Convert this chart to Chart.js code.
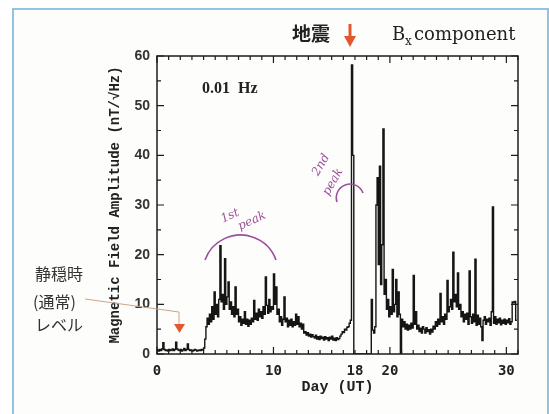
<!DOCTYPE html>
<html>
<head>
<meta charset="utf-8">
<script src="https://cdn.jsdelivr.net/npm/chart.js@4.4.0/dist/chart.umd.min.js"></script>
<style>
  html, body { margin: 0; padding: 0; background: #fff; }
  #wrap { width: 549px; height: 414px; position: relative; }
</style>
</head>
<body>
<div id="wrap"><canvas id="chart" width="549" height="414"></canvas></div>
<script>
// --- Datos (amplitud 0.01 Hz, componente Bx), paso de 0.1 día ---
const DAY_STEP = 0.1;

// días 0.0 - 4.0 (nivel de calma)
const quietDays = [
  0.5, 0.8, 0.6, 0.9, 0.7, 1.0, 2.3, 0.9, 0.7, 0.8,
  0.6, 0.9, 0.7, 0.8, 1.0, 0.7, 0.9, 2.4, 1.0, 0.8,
  0.7, 0.9, 0.6, 0.8, 1.1, 0.7, 0.9, 2.0, 0.9, 0.7,
  0.8, 0.6, 0.7, 0.9, 0.8, 0.6, 0.7, 0.8, 0.7, 0.9,
  0.8
];

// días 4.1 - 12.6 (1st peak)
const firstPeakDays = [
  1.2, 3.0, 5.5, 7.2, 6.0, 8.0, 6.5, 9.5, 7.0,
  12.5, 8.0, 10.0, 7.5, 11.0, 21.8, 10.5, 12.0, 9.0, 19.2,
  10.0, 11.5, 14.5, 9.0, 10.5, 8.0, 9.5, 7.5, 13.5, 8.0,
  9.0, 6.5, 7.5, 5.8, 7.0, 6.2, 8.5, 6.0, 7.0, 5.6,
  6.8, 6.0, 7.2, 6.5, 10.8, 7.0, 8.2, 6.8, 9.0, 7.5,
  8.5, 7.2, 9.5, 8.0, 15.5, 9.8, 8.2, 11.0, 8.5, 9.5,
  9.0, 16.1, 10.0, 13.5, 8.0, 9.0, 6.5, 7.5, 5.8, 7.0,
  11.5, 6.5, 7.2, 5.5, 6.8, 5.8, 7.0, 5.5, 6.5, 5.8,
  8.0, 6.0, 7.5, 5.5, 6.2, 5.0, 6.0
];

// días 12.7 - 16.7 (antes del sismo)
const preQuakeDays = [
  4.2, 4.5, 3.8, 4.3, 3.6, 4.0, 3.4, 3.9, 3.5, 3.2,
  3.8, 3.0, 3.5, 2.9, 3.6, 3.1, 3.4, 2.8, 3.5, 3.0,
  3.3, 2.7, 3.4, 3.0, 3.6, 2.8, 3.2, 2.7, 3.3, 2.9,
  3.1, 3.6, 4.0, 4.5, 4.3, 5.0, 4.8, 5.4, 5.5, 6.2,
  6.8
];

// días 16.8 - 16.9 (sismo)
const quakeDays = [58.2, 40.0];

// días 17.0 - 18.4 (sin datos)
const gapDays = [0, 0, 0, 0, 0, 0, 0, 0, 0, 0, 0, 0, 0, 0, 0];

// días 18.5 - 30.9 (después del sismo)
const postQuakeDays = [
  11.0, 4.8, 4.2, 5.5, 30.0,
  35.5, 18.0, 37.8, 14.0, 22.0, 45.3, 12.0, 15.0, 9.0, 11.0,
  7.5, 9.5, 8.0, 17.0, 8.5, 10.0, 15.0, 7.5, 12.5, 8.0,
  0, 7.0, 5.5, 6.5, 5.0, 6.0, 4.8, 5.8, 5.0, 6.2,
  5.2, 15.8, 6.0, 8.5, 5.0, 5.8, 4.5, 5.2, 4.2, 5.5,
  5.0, 4.2, 5.3, 4.5, 4.9, 4.0, 5.0, 4.4, 5.6, 5.0,
  6.5, 5.6, 7.0, 6.0, 12.2, 6.5, 7.5, 6.0, 8.0, 7.0,
  14.8, 8.5, 9.5, 11.0, 9.0, 20.5, 10.5, 12.0, 9.5, 16.3,
  9.0, 10.0, 7.5, 8.5, 6.5, 8.0, 7.0, 8.2, 6.0, 16.7,
  7.5, 6.2, 8.0, 6.5, 19.1, 5.8, 7.8, 6.0, 7.2, 5.5,
  2.7, 6.8, 7.5, 6.0, 7.0, 6.5, 7.2, 5.8, 8.5, 29.6,
  6.2, 7.5, 6.0, 7.0, 6.3, 7.2, 5.9, 6.8, 6.2, 7.0,
  6.0, 6.8, 6.3, 7.1, 6.0, 6.5, 10.5, 10.3, 10.6, 6.8
];

const segments = [
  { start: 0.0, values: quietDays },
  { start: 4.1, values: firstPeakDays },
  { start: 12.7, values: preQuakeDays },
  { start: 16.8, values: quakeDays },
  { start: 17.0, values: gapDays },
  { start: 18.5, values: postQuakeDays }
];

// Ejes
const xTickValues = [0, 10, 17, 20, 30];
const xTickLabels = ['0', '10', '18', '20', '30'];
const yTickValues = [0, 10, 20, 30, 40, 50, 60];

// --- Construcción de puntos ---
function buildPoints() {
  const pts = [];
  segments.forEach(seg => {
    seg.values.forEach((v, i) => {
      pts.push({ x: Math.round((seg.start + i * DAY_STEP) * 10) / 10, y: v });
    });
  });
  return pts;
}

const PURPLE = '#9b4f9c';
const RED = '#e4572e';

// --- Marco, ticks y anotaciones ---
const framePlugin = {
  id: 'frame',
  beforeDraw(chart) {
    const ctx = chart.ctx;
    ctx.save();
    ctx.fillStyle = '#ffffff';
    ctx.fillRect(0, 0, chart.width, chart.height);
    ctx.fillStyle = '#fdfdfb';
    ctx.fillRect(13, 9, 535, 420);
    ctx.strokeStyle = '#92c4df';
    ctx.lineWidth = 2;
    ctx.strokeRect(13, 9, 535, 420);
    ctx.restore();
  },
  afterDatasetsDraw(chart) {
    const { ctx, chartArea: a, scales: { x, y } } = chart;
    ctx.save();
    ctx.strokeStyle = '#1c1c1c';
    ctx.lineWidth = 1.5;
    ctx.strokeRect(a.left, a.top, a.right - a.left, a.bottom - a.top);

    ctx.lineWidth = 1.2;
    ctx.beginPath();
    for (let d = 0; d <= 31; d++) {
      const px = x.getPixelForValue(d);
      const len = d % 10 === 0 ? 7 : 4;
      ctx.moveTo(px, a.bottom); ctx.lineTo(px, a.bottom - len);
      ctx.moveTo(px, a.top); ctx.lineTo(px, a.top + len);
    }
    for (let v = 0; v <= 60; v += 5) {
      const py = y.getPixelForValue(v);
      const len = v % 10 === 0 ? 7 : 4;
      ctx.moveTo(a.left, py); ctx.lineTo(a.left + len, py);
      ctx.moveTo(a.right, py); ctx.lineTo(a.right - len, py);
    }
    ctx.stroke();
    ctx.restore();
  },
  afterDraw(chart) {
    const ctx = chart.ctx;
    ctx.save();

    // 0.01 Hz
    ctx.fillStyle = '#222';
    ctx.font = 'bold 16px "Liberation Serif"';
    ctx.textBaseline = 'middle';
    ctx.fillText('0.01  Hz', 202, 89);

    // 地震 + flecha
    ctx.font = 'bold 19px "Noto Sans CJK JP"';
    ctx.fillStyle = '#222';
    ctx.fillText('地震', 292, 34);
    ctx.strokeStyle = RED;
    ctx.lineWidth = 3;
    ctx.beginPath(); ctx.moveTo(350, 24); ctx.lineTo(350, 38); ctx.stroke();
    ctx.fillStyle = RED;
    ctx.beginPath(); ctx.moveTo(344, 36); ctx.lineTo(356, 36); ctx.lineTo(350, 47); ctx.closePath(); ctx.fill();

    // Bx component
    ctx.fillStyle = '#222';
    ctx.textBaseline = 'alphabetic';
    ctx.font = '18px "DejaVu Serif"';
    ctx.fillText('B', 392, 40);
    ctx.font = '12px "DejaVu Serif"';
    ctx.fillText('x', 405, 45);
    ctx.font = '18px "DejaVu Serif"';
    ctx.fillText('component', 414, 40);

    // 静穏時 (通常) レベル
    ctx.font = '16px "Noto Sans CJK JP"';
    ctx.fillStyle = '#333';
    ctx.textBaseline = 'middle';
    ctx.fillText('静穏時', 35, 274);
    ctx.fillText('(通常)', 33, 302);
    ctx.fillText('レベル', 35, 325);
    ctx.strokeStyle = '#c9a58a';
    ctx.lineWidth = 1;
    ctx.beginPath(); ctx.moveTo(85, 299); ctx.lineTo(179, 312); ctx.lineTo(179, 325); ctx.stroke();
    ctx.fillStyle = RED;
    ctx.beginPath(); ctx.moveTo(174, 324); ctx.lineTo(185, 324); ctx.lineTo(179.5, 333); ctx.closePath(); ctx.fill();

    // anotaciones a mano (morado)
    ctx.strokeStyle = PURPLE;
    ctx.fillStyle = PURPLE;
    ctx.lineWidth = 1.6;
    arcThrough(ctx, 205, 260, 241, 235, 276, 260);
    arcThrough(ctx, 337, 202, 351, 184, 363, 193);

    ctx.font = 'italic 12px "DejaVu Serif"';
    ctx.textAlign = 'center';
    rotText(ctx, '1st', 230, 216, -25);
    rotText(ctx, 'peak', 252, 221, -25);
    rotText(ctx, '2nd', 321, 165, -60);
    rotText(ctx, 'peak', 333, 182, -60);

    ctx.restore();
  }
};

function rotText(ctx, text, x, y, deg) {
  ctx.save();
  ctx.translate(x, y);
  ctx.rotate(deg * Math.PI / 180);
  ctx.fillText(text, 0, 0);
  ctx.restore();
}

// arco de círculo que pasa por tres puntos
function arcThrough(ctx, x1, y1, x2, y2, x3, y3) {
  const d = 2 * (x1 * (y2 - y3) + x2 * (y3 - y1) + x3 * (y1 - y2));
  const s1 = x1 * x1 + y1 * y1, s2 = x2 * x2 + y2 * y2, s3 = x3 * x3 + y3 * y3;
  const cx = (s1 * (y2 - y3) + s2 * (y3 - y1) + s3 * (y1 - y2)) / d;
  const cy = (s1 * (x3 - x2) + s2 * (x1 - x3) + s3 * (x2 - x1)) / d;
  const r = Math.hypot(x1 - cx, y1 - cy);
  const a1 = Math.atan2(y1 - cy, x1 - cx);
  const a3 = Math.atan2(y3 - cy, x3 - cx);
  ctx.beginPath();
  ctx.arc(cx, cy, r, a1, a3, false);
  ctx.stroke();
}

const ctx = document.getElementById('chart').getContext('2d');
new Chart(ctx, {
  type: 'line',
  data: {
    datasets: [{
      data: buildPoints(),
      borderColor: '#151515',
      borderWidth: 1.4,
      pointRadius: 0,
      stepped: 'after',
      tension: 0
    }]
  },
  options: {
    responsive: false,
    devicePixelRatio: 1,
    animation: false,
    layout: { padding: { left: 103, right: 31, top: 56, bottom: 0 } },
    plugins: { legend: { display: false }, tooltip: { enabled: false } },
    scales: {
      x: {
        type: 'linear',
        min: 0,
        max: 31,
        afterFit: s => { s.height = 60; },
        afterBuildTicks: s => { s.ticks = xTickValues.map(v => ({ value: v })); },
        grid: { display: false, drawTicks: false },
        border: { display: false },
        ticks: {
          padding: 9,
          color: '#222',
          font: { family: 'DejaVu Sans Mono', size: 14, weight: 'bold' },
          maxRotation: 0,
          callback: v => xTickLabels[xTickValues.indexOf(v)]
        },
        title: {
          display: true,
          text: 'Day (UT)',
          color: '#222',
          font: { family: 'Liberation Mono', size: 15, weight: 'bold' },
          padding: { top: 0, bottom: 18 }
        }
      },
      y: {
        min: 0,
        max: 60,
        afterFit: s => { s.width = 54; },
        afterBuildTicks: s => { s.ticks = yTickValues.map(v => ({ value: v })); },
        grid: { display: false, drawTicks: false },
        border: { display: false },
        ticks: {
          padding: 7,
          color: '#333',
          font: { family: 'Liberation Sans', size: 14, weight: 'bold' }
        },
        title: {
          display: true,
          text: 'Magnetic Field Amplitude (nT/√Hz)',
          color: '#222',
          font: { family: 'Liberation Mono', size: 14, weight: 'bold' },
          padding: { top: 4, bottom: 4 }
        }
      }
    }
  },
  plugins: [framePlugin]
});
</script>
</body>
</html>
